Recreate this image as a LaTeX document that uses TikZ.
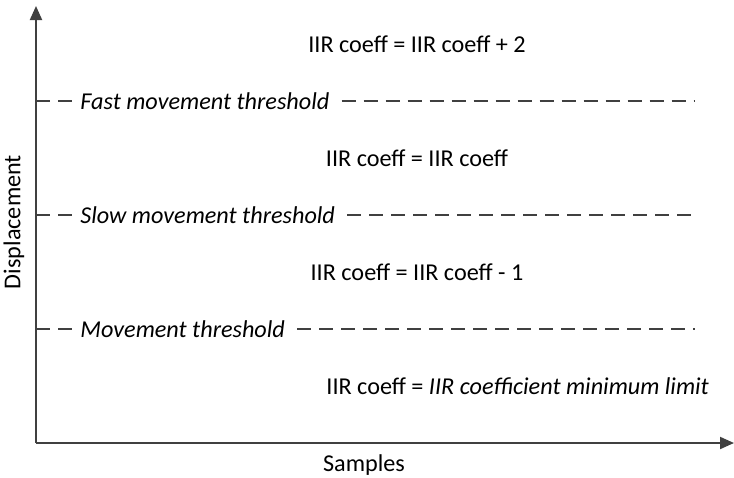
\documentclass[tikz,border=0pt]{standalone}
\usepackage{fontspec}
\setmainfont{Carlito}
\usepackage{xcolor}
\usetikzlibrary{arrows.meta}
\definecolor{axisGrey}{HTML}{404040}

\begin{document}
\begin{tikzpicture}[
    x=0.5pt, y=-0.5pt,
    axis/.style={draw=axisGrey, line width=1pt, -{Triangle[length=7pt, width=6pt]}},
    limit/.style={draw=axisGrey, line width=1pt, dash pattern=on 7pt off 4pt},
    thr/.style={anchor=west, inner xsep=3pt, inner ysep=0pt, font=\fontsize{12.1}{14}\selectfont\itshape},
    rule/.style={inner sep=0pt, font=\fontsize{12.1}{14}\selectfont}
]
\useasboundingbox (0,0) rectangle (734,477);

% axes
\coordinate (origin) at (36,443);
\coordinate (ytip) at (36,6);
\coordinate (xtip) at (734,443);
\draw[axis] (origin) -- (ytip);
\draw[axis] (origin) -- (xtip);
\node[rule, rotate=90] (ylabel) at (14,222) {Displacement};
\node[rule] (xlabel) at (364,465) {Samples};

% thresholds
\coordinate (fastL) at (36,101);
\coordinate (fastR) at (695,101);
\coordinate (slowL) at (36,215);
\coordinate (slowR) at (695,215);
\coordinate (moveL) at (36,329);
\coordinate (moveR) at (695,329);

\node[thr] (fast) at (74,101) {Fast movement threshold};
\node[thr] (slow) at (74,215) {Slow movement threshold};
\node[thr] (move) at (74,329) {Movement threshold};

\draw[limit] (fastL) -- (fast.west);
\draw[limit, shorten <=3pt] (fast.east) -- (fastR);
\draw[limit] (slowL) -- (slow.west);
\draw[limit, shorten <=3pt] (slow.east) -- (slowR);
\draw[limit] (moveL) -- (move.west);
\draw[limit, shorten <=3pt] (move.east) -- (moveR);

% coefficient rules
\node[rule] (up) at (417,44) {IIR coeff = IIR coeff + 2};
\node[rule] (keep) at (417,158) {IIR coeff = IIR coeff};
\node[rule] (down) at (417,272) {IIR coeff = IIR coeff - 1};
\node[rule, anchor=west] (min) at (326,386) {IIR coeff = \textit{IIR coefficient minimum limit}};

\end{tikzpicture}
\end{document}
